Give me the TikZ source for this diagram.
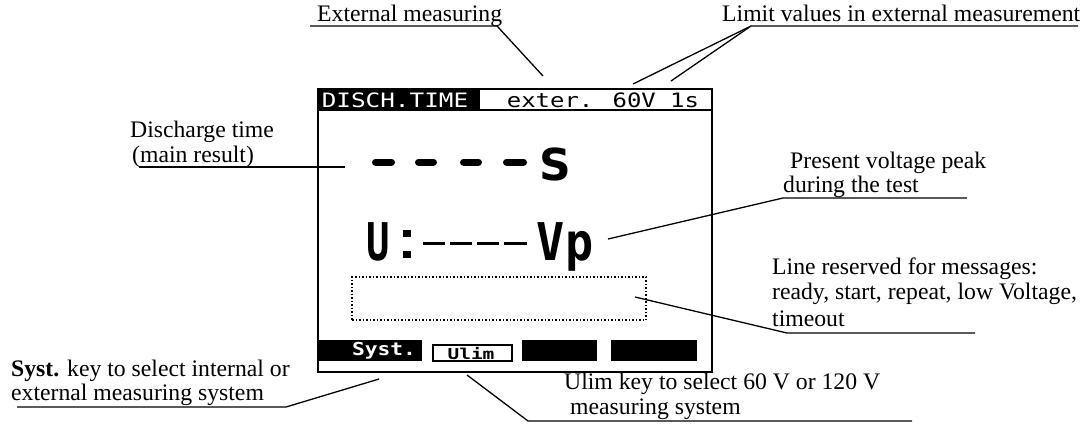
\documentclass[tikz,border=0pt]{standalone}
\usepackage{fontspec}
\usepackage{graphicx}
\setmainfont{Liberation Serif}
\newfontfamily\lcd{DejaVu Sans Mono}
\newfontfamily\lcdsans{DejaVu Sans}
\tikzset{
  lbl/.style={anchor=base west, inner sep=0pt, font=\fontsize{23.7}{24}\selectfont},
  lead/.style={line width=1.3pt},
  lcdtxt/.style={inner sep=0pt, font=\lcd\fontsize{18}{18}\selectfont},
  bigtxt/.style={anchor=base, inner sep=0pt, font=\lcd\bfseries\fontsize{52}{52}\selectfont},
}
\begin{document}
\begin{tikzpicture}[x=1pt,y=-1pt]
\useasboundingbox (0,0) rectangle (1090,426);
% ---------- screen ----------
\fill[black] (318,89) rectangle (480,110);
\draw[line width=2.5pt] (318,89) rectangle (712,372);
\draw[line width=2pt] (318,110) -- (712,110);
\node[lcdtxt, text=white] (hdrL) at (395,100) {\scalebox{1.35}[1.1]{DISCH.TIME}};
\node[lcdtxt] (hdrR) at (603,100) {\scalebox{1.33}[1.1]{exter. 60V 1s}};
% main result
\foreach \a/\b in {372/395,415/437,460/482,503/527}
  \draw[line width=7pt, line cap=round] (\a+3.5,162) -- (\b-3.5,162);
\node[anchor=base, inner sep=0pt, font=\lcdsans\bfseries\fontsize{44}{44}\selectfont] (sres) at (555,180) {S};
% voltage
\node[bigtxt] (uchar) at (378,260) {\scalebox{0.75}[1]{U}};
\fill (403,230) rectangle (411,237);
\fill (403,251) rectangle (411,258);
\foreach \a/\b in {423/445,450/472,477/499,504/527}
  \draw[line width=3pt] (\a,243) -- (\b,243);
\node[bigtxt] (vp) at (565,260) {\scalebox{0.9}[1]{Vp}};
% message line
\node[draw, dotted, line width=1.5pt, minimum width=294pt, minimum height=43pt, inner sep=0pt] (msgbox) at (499,298.5) {};
% softkeys
\fill (318,340) rectangle (422,361);
\node[lcdtxt, text=white, font=\lcd\bfseries\fontsize{17}{17}\selectfont] (syst) at (384,351) {\scalebox{1.25}[1.05]{Syst.}};
\draw[line width=2.5pt, fill=white] (433,345) rectangle (512,361);
\node[lcdtxt, font=\lcd\bfseries\fontsize{15}{15}\selectfont] (ulim) at (471,354) {\scalebox{1.3}[1]{Ulim}};
\fill (522,340) rectangle (597,361);
\fill (611,340) rectangle (697,361);
% ---------- labels ----------
\node[lbl] (extm) at (317,21) {External measuring};
\coordinate (extU0) at (310,26);
\coordinate (extU1) at (497,26);
\coordinate (extP) at (543,76);
\draw[lead] (extU0) -- (extU1) -- (extP);

\node[lbl] (limv) at (722,21) {Limit values in external measurement};
\coordinate (limU0) at (751,26);
\coordinate (limU1) at (1078,26);
\coordinate (limP1) at (633,84);
\coordinate (limP2) at (671,81);
\draw[lead] (limU1) -- (limU0) -- (limP1);
\draw[lead] (limU0) -- (limP2);

\node[lbl] (dis1) at (130,137) {Discharge time};
\node[lbl] (dis2) at (132,162) {(main result)};
\coordinate (disU0) at (139,167);
\coordinate (disP) at (345,167);
\draw[lead] (disU0) -- (disP);

\node[lbl] (pv1) at (790,168) {Present voltage peak};
\node[lbl] (pv2) at (783,192) {during the test};
\coordinate (pvU1) at (967,198);
\coordinate (pvU0) at (783,198);
\coordinate (pvP) at (608,239);
\draw[lead] (pvU1) -- (pvU0) -- (pvP);

\node[lbl] (ms1) at (772,274) {Line reserved for messages:};
\node[lbl] (ms2) at (772,299) {ready, start, repeat, low Voltage,};
\node[lbl] (ms3) at (772,326) {timeout};
\coordinate (msU1) at (975,333);
\coordinate (msU0) at (787,333);
\coordinate (msP) at (635,297);
\draw[lead] (msU1) -- (msU0) -- (msP);

\node[lbl] (sy1) at (11,376) {\textbf{Syst.} key to select internal or};
\node[lbl] (sy2) at (11,400) {external measuring system};
\coordinate (syU0) at (17,407);
\coordinate (syU1) at (286,407);
\coordinate (syP) at (379,379);
\draw[lead] (syU0) -- (syU1) -- (syP);

\node[lbl] (ul1) at (564,389) {Ulim key to select 60 V or 120 V};
\node[lbl] (ul2) at (570,414) {measuring system};
\coordinate (ulU1) at (912,421);
\coordinate (ulU0) at (528,421);
\coordinate (ulP) at (467,375);
\draw[lead] (ulU1) -- (ulU0) -- (ulP);
\end{tikzpicture}
\end{document}
